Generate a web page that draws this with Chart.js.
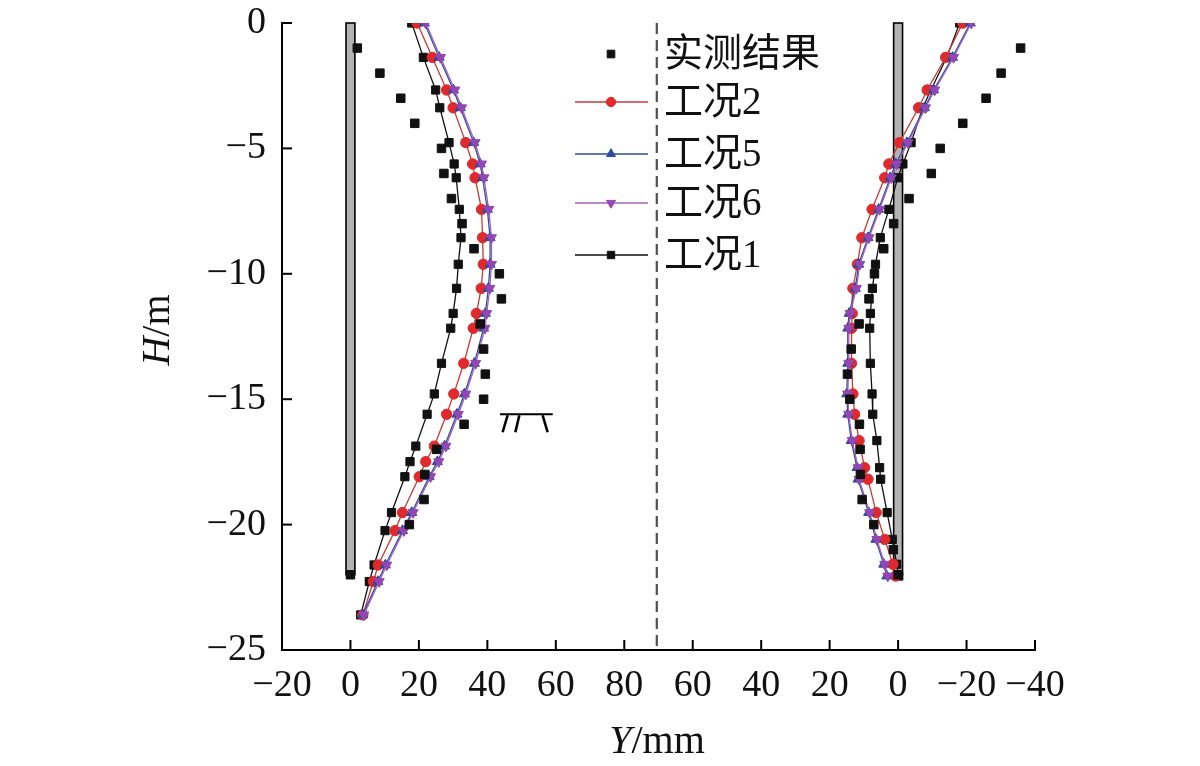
<!DOCTYPE html>
<html><head><meta charset="utf-8">
<script src="https://cdn.jsdelivr.net/npm/chart.js@4.4.0/dist/chart.umd.min.js"></script>
<style>html,body{margin:0;padding:0;background:#fff;}#wrap{width:1200px;height:766px;}</style>
</head><body><div id="wrap"><canvas id="c" width="1200" height="766"></canvas></div>
<script>
// ---- axis ticks ----
const xTickValues = [-20, 0, 20, 40, 60, 80, 100, 120, 140, 160, 180, 200];
const xTickLabels = ['−20', '0', '20', '40', '60', '80', '60', '40', '20', '0', '−20', '−40'];
const yTickValues = [0, -5, -10, -15, -20, -25];
const yTickLabels = ['0', '−5', '−10', '−15', '−20', '−25'];
const rightOrigin = 160;      // right wall: plotted position = rightOrigin - displacement
const separatorAt = 89.5;
const wallTop = 0, wallBottom = -22, wallHalf = 1.3;
const groundLevel = -15.6, groundFrom = 43.7, groundTo = 59.1;

// ---- depths (m) ----
const depthLeft = [0, -1.37, -2.67, -3.38, -4.77, -5.62, -6.17, -7.43, -8.56, -9.62, -10.58, -11.58, -12.17, -13.57, -14.79, -15.6, -16.87, -17.49, -18.09, -19.52, -20.24, -21.61, -22.27, -23.6];
const depthRight = [0, -1.37, -2.67, -3.38, -4.77, -5.62, -6.17, -7.43, -8.56, -9.62, -10.58, -11.58, -12.17, -13.57, -14.79, -15.6, -16.65, -17.73, -18.19, -19.52, -20.59, -21.58, -22.05];
const measuredDepth = [-1, -2, -3, -4, -5, -6, -7, -8, -9, -10, -11, -12, -13, -14, -15, -16, -17, -18, -19, -20, -21, -22];

// ---- displacements (mm) ----
const measuredLeft  = [2.0, 8.6, 14.7, 18.8, 26.6, 27.3, 29.5, 32.6, 36.1, 43.5, 44.1, 37.9, 38.9, 39.4, 38.9, 33.2, 25.2, 21.7, 21.5, 17.2, null, 0];
const measuredRight = [-35.8, -30.1, -25.7, -18.9, -12.3, -9.7, -3.2, 1.3, 4.2, 6.9, 8.5, 11.4, 13.7, 14.8, 14.1, 11.3, 11.1, 11.0, 10.5, 7.1, 1.4, 0];

const case2Left = [19.5, 23.9, 28.1, 30.0, 33.7, 35.7, 36.4, 38.3, 38.6, 38.8, 38.2, 36.8, 35.9, 33.1, 30.2, 28.1, 24.5, 22.0, 20.1, 15.2, 13.0, 8.1, 6.7, 3.6];
const case5Left = [21.6, 25.9, 30.1, 32.1, 36.0, 37.9, 38.6, 40.0, 40.8, 40.8, 40.3, 39.4, 38.9, 36.2, 33.3, 31.1, 27.5, 25.4, 23.0, 17.9, 15.2, 10.2, 8.0, 3.6];
const case6Left = [22.0, 26.3, 30.5, 32.5, 36.4, 38.3, 39.0, 40.4, 41.2, 41.2, 40.7, 39.8, 39.3, 36.6, 33.7, 31.5, 27.9, 25.8, 23.4, 18.3, 15.6, 10.6, 8.4, 3.9];
const case1Left = [17.9, 21.3, 24.9, 26.1, 28.8, 30.3, 30.9, 31.8, 32.3, 31.5, 31.0, 30.0, 29.3, 26.6, 24.5, 22.4, 19.1, 17.4, 15.9, 12.0, 10.1, 6.9, 5.5, 3.0];

const case2Right = [-18.9, -13.9, -8.5, -6.0, -0.4, 2.7, 3.9, 7.6, 10.6, 11.9, 13.2, 13.4, 13.6, 13.6, 13.2, 12.7, 11.4, 9.8, 8.8, 6.4, 3.9, 1.5, 0.7];
const case5Right = [-21.1, -15.9, -10.4, -7.7, -2.6, 0.7, 2.3, 5.7, 8.8, 11.5, 12.5, 14.3, 14.7, 14.7, 15.0, 14.7, 13.7, 12.0, 11.7, 8.6, 6.5, 4.2, 3.3];
const case6Right = [-21.4, -16.2, -10.7, -8.0, -2.9, 0.4, 2.0, 5.4, 8.5, 11.2, 12.2, 14.0, 14.4, 14.4, 14.7, 14.4, 13.4, 11.7, 11.4, 8.3, 6.2, 3.9, 3.0];
const case1Right = [-18.0, -14.2, -9.6, -7.2, -3.8, -1.4, 0.1, 2.7, 5.2, 6.6, 7.5, 8.1, 8.3, 8.1, 7.6, 7.4, 6.2, 5.4, 5.1, 3.2, 1.7, 0.4, -0.2];

const seriesNames = ['实测结果', '工况2', '工况5', '工况6', '工况1'];

// ---- styles ----
const RED = '#e0292b', RED_L = '#c83a3a';
const BLUE = '#2d4c9e';
const PURPLE = '#9346b4', PURPLE_L = '#a062bc';
const BLACK = '#111111';

const styles = {
  '实测结果': {color: BLACK, line: BLACK, pointStyle: 'rect', radius: 6, rotation: 0, showLine: false},
  '工况2': {color: RED, line: RED_L, pointStyle: 'circle', radius: 5.2, rotation: 0, showLine: true},
  '工况5': {color: BLUE, line: BLUE, pointStyle: 'triangle', radius: 5.8, rotation: 0, showLine: true},
  '工况6': {color: PURPLE, line: PURPLE_L, pointStyle: 'triangle', radius: 5.8, rotation: 180, showLine: true},
  '工况1': {color: BLACK, line: BLACK, pointStyle: 'rect', radius: 5.8, rotation: 0, showLine: true}
};

function leftPts(depth, vals) { return depth.map((h, i) => vals[i] == null ? null : ({x: vals[i], y: h})).filter(p => p); }
function rightPts(depth, vals) { return depth.map((h, i) => vals[i] == null ? null : ({x: rightOrigin - vals[i], y: h})).filter(p => p); }

function ds(name, data) {
  const s = styles[name];
  return {
    label: name, data: data, showLine: s.showLine,
    borderColor: s.line, borderWidth: 1.3, backgroundColor: s.color,
    pointBackgroundColor: s.color, pointBorderColor: s.color, pointBorderWidth: 1,
    pointStyle: s.pointStyle, pointRadius: s.radius, pointRotation: s.rotation,
    pointHoverRadius: s.radius, tension: 0, fill: false
  };
}

const datasets = [
  ds('实测结果', leftPts(measuredDepth, measuredLeft)),
  ds('实测结果', rightPts(measuredDepth, measuredRight)),
  ds('工况6', leftPts(depthLeft, case6Left)),
  ds('工况6', rightPts(depthRight, case6Right)),
  ds('工况5', leftPts(depthLeft, case5Left)),
  ds('工况5', rightPts(depthRight, case5Right)),
  ds('工况2', leftPts(depthLeft, case2Left)),
  ds('工况2', rightPts(depthRight, case2Right)),
  ds('工况1', leftPts(depthLeft, case1Left)),
  ds('工况1', rightPts(depthRight, case1Right))
];

const SERIF = '"Liberation Serif", "Times New Roman", "Noto Sans CJK SC", serif';
const TICK_FONT = {family: SERIF, size: 38};

const decor = {
  id: 'decor',
  beforeDatasetsDraw(chart) {
    const ctx = chart.ctx, xs = chart.scales.x, ys = chart.scales.y;
    ctx.save();
    [0, rightOrigin].forEach(c => {
      const x0 = xs.getPixelForValue(c - wallHalf), x1 = xs.getPixelForValue(c + wallHalf);
      const y0 = ys.getPixelForValue(wallTop), y1 = ys.getPixelForValue(wallBottom);
      ctx.fillStyle = '#b3b3b3';
      ctx.fillRect(x0, y0, x1 - x0, y1 - y0);
      ctx.strokeStyle = '#000'; ctx.lineWidth = 1.6;
      ctx.strokeRect(x0, y0, x1 - x0, y1 - y0);
    });
    const sx = xs.getPixelForValue(separatorAt);
    ctx.strokeStyle = '#505050'; ctx.lineWidth = 2.2; ctx.setLineDash([11, 6]);
    ctx.beginPath(); ctx.moveTo(sx, ys.getPixelForValue(0)); ctx.lineTo(sx, ys.getPixelForValue(-25)); ctx.stroke();
    ctx.setLineDash([]);
    const gx0 = xs.getPixelForValue(groundFrom), gx1 = xs.getPixelForValue(groundTo), gy = ys.getPixelForValue(groundLevel);
    ctx.strokeStyle = '#000'; ctx.lineWidth = 2;
    ctx.beginPath(); ctx.moveTo(gx0, gy); ctx.lineTo(gx1, gy); ctx.stroke();
    ctx.lineWidth = 2.6;
    [[7.6, -5], [19.3, -4], [42.6, 5]].forEach(([t, d]) => {
      ctx.beginPath(); ctx.moveTo(gx0 + t, gy + 1); ctx.lineTo(gx0 + t + d, gy + 18); ctx.stroke();
    });
    ctx.strokeStyle = '#000'; ctx.lineWidth = 2;
    yTickValues.forEach(v => {
      const y = ys.getPixelForValue(v);
      ctx.beginPath(); ctx.moveTo(xs.left, y); ctx.lineTo(xs.left + 10, y); ctx.stroke();
    });
    xTickValues.forEach(v => {
      const x = xs.getPixelForValue(v);
      ctx.beginPath(); ctx.moveTo(x, ys.bottom); ctx.lineTo(x, ys.bottom - 10); ctx.stroke();
    });
    ctx.restore();
  },
  afterDraw(chart) {
    const ctx = chart.ctx;
    ctx.save();
    const rows = [54, 102, 154, 203, 255];
    const lx0 = 575, lx1 = 648, lm = 611, lt = 664;
    seriesNames.forEach((name, i) => {
      const s = styles[name], y = rows[i];
      if (s.showLine) {
        ctx.strokeStyle = s.line; ctx.lineWidth = 1.3;
        ctx.beginPath(); ctx.moveTo(lx0, y); ctx.lineTo(lx1, y); ctx.stroke();
      }
      ctx.fillStyle = s.color; ctx.strokeStyle = s.color; ctx.lineWidth = 1;
      Chart.helpers.drawPoint(ctx, {pointStyle: s.pointStyle, radius: s.radius * 0.9, rotation: s.rotation, borderWidth: 1}, lm, y);
      ctx.fillStyle = '#111';
      ctx.font = '39px ' + SERIF;
      ctx.textBaseline = 'middle'; ctx.textAlign = 'left';
      ctx.fillText(name, lt, y + 2);
    });
    const italic = 'italic 40px ' + SERIF, normal = '40px ' + SERIF;
    ctx.textBaseline = 'alphabetic';
    ctx.font = italic; const wY = ctx.measureText('Y').width;
    ctx.font = normal; const wR = ctx.measureText('/mm').width;
    let tx = 657 - (wY + wR) / 2, ty = 753;
    ctx.font = italic; ctx.fillText('Y', tx, ty);
    ctx.font = normal; ctx.fillText('/mm', tx + wY, ty);
    ctx.translate(169, 330); ctx.rotate(-Math.PI / 2);
    ctx.font = italic; const wH = ctx.measureText('H').width;
    ctx.font = normal; const wM = ctx.measureText('/m').width;
    const sx0 = -(wH + wM) / 2;
    ctx.font = italic; ctx.fillText('H', sx0, 0);
    ctx.font = normal; ctx.fillText('/m', sx0 + wH, 0);
    ctx.restore();
  }
};

new Chart(document.getElementById('c'), {
  type: 'scatter',
  data: {datasets},
  options: {
    responsive: false, animation: false, devicePixelRatio: 1,
    layout: {padding: {left: 0, right: 165, top: 23, bottom: 0}},
    plugins: {legend: {display: false}, tooltip: {enabled: false}},
    scales: {
      x: {
        type: 'linear', min: -20, max: 200,
        afterBuildTicks: s => { s.ticks = xTickValues.map(v => ({value: v})); },
        afterFit: s => { s.height = 116; s.paddingLeft = 0; s.paddingRight = 0; },
        ticks: {callback: v => xTickLabels[xTickValues.indexOf(v)], font: TICK_FONT, color: '#111', padding: 13, maxRotation: 0, autoSkip: false},
        grid: {display: false, drawTicks: false},
        border: {display: true, color: '#000', width: 2}
      },
      y: {
        type: 'linear', min: -25, max: 0,
        afterBuildTicks: s => { s.ticks = yTickValues.map(v => ({value: v})); },
        afterFit: s => { s.width = 282; s.paddingTop = 0; s.paddingBottom = 0; },
        ticks: {callback: v => yTickLabels[yTickValues.indexOf(v)], font: TICK_FONT, color: '#111', padding: 16, autoSkip: false},
        grid: {display: false, drawTicks: false},
        border: {display: true, color: '#000', width: 2}
      }
    }
  },
  plugins: [decor]
});
</script></body></html>
